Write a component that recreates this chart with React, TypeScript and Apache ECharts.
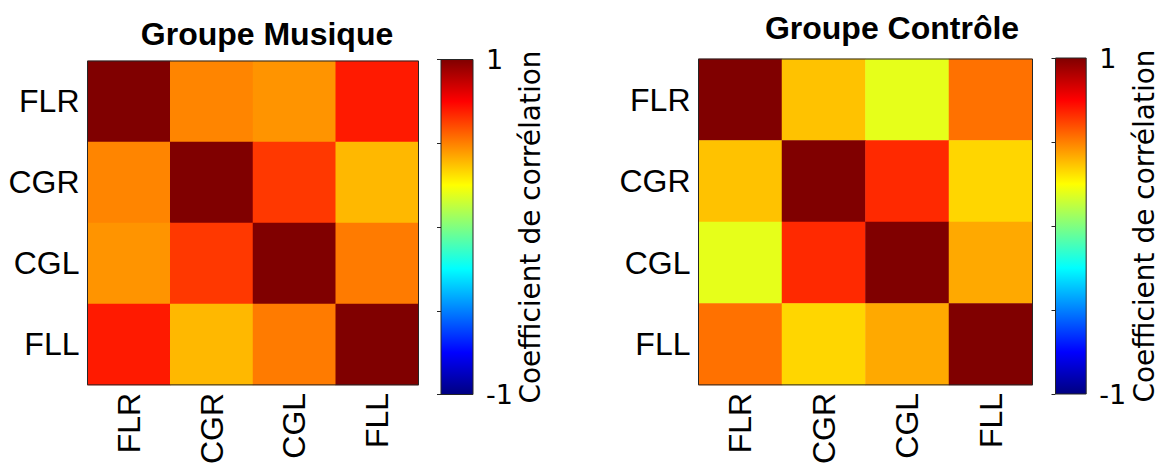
import React, { useEffect, useRef } from "react";
import * as echarts from "echarts";

const labels = ["FLR", "CGR", "CGL", "FLL"];
const titles = ["Groupe Musique", "Groupe Contrôle"];
const colorbarTitle = "Coefficient de corrélation";
const colorbarRange = [-1, 1];

// correlation matrices (rows top→bottom, columns left→right)
const musiqueFLR = [1, 0.49, 0.46, 0.7];
const musiqueCGR = [0.49, 1, 0.64, 0.39];
const musiqueCGL = [0.46, 0.64, 1, 0.51];
const musiqueFLL = [0.7, 0.39, 0.51, 1];

const controleFLR = [1, 0.37, 0.2, 0.53];
const controleCGR = [0.37, 1, 0.67, 0.33];
const controleCGL = [0.2, 0.67, 1, 0.42];
const controleFLL = [0.53, 0.33, 0.42, 1];

const jet = [
  "#000080",
  "#0000ff",
  "#0080ff",
  "#00ffff",
  "#80ff80",
  "#ffff00",
  "#ff8000",
  "#ff0000",
  "#800000",
];

function toCells(rows: number[][]) {
  const out: number[][] = [];
  rows.forEach((row, r) => row.forEach((v, c) => out.push([c, r, v])));
  return out;
}

const LABEL_FONT = "'Liberation Sans', Arial, sans-serif";
const CB_FONT = "'DejaVu Sans', 'Open Sans', sans-serif";

export default function App() {
  const ref = useRef<HTMLDivElement>(null);
  useEffect(() => {
    if (!ref.current) return;
    const chart = echarts.init(ref.current, undefined, { renderer: "svg" });
    const musique = toCells([musiqueFLR, musiqueCGR, musiqueCGL, musiqueFLL]);
    const controle = toCells([controleFLR, controleCGR, controleCGL, controleFLL]);

    const heatGrids = [
      { left: 87.5, top: 61, width: 331, height: 332 },
      { left: 698.5, top: 59, width: 334, height: 335 },
    ];
    const cbGrids = [
      { left: 441, top: 59.5, width: 32, height: 335 },
      { left: 1055.5, top: 58, width: 32.5, height: 336 },
    ];
    const cbNameGaps = [40, 36];
    const stops = jet
      .slice()
      .reverse()
      .map((c, i) => ({ offset: i / (jet.length - 1), color: c }));

    const grids: any[] = [];
    const xAxes: any[] = [];
    const yAxes: any[] = [];
    [...heatGrids, ...cbGrids].forEach((g) => {
      grids.push({ ...g, show: true, borderColor: "#262626", borderWidth: 1, backgroundColor: "transparent", z: 10 });
    });
    [0, 1].forEach((i) => {
      xAxes.push({
        type: "category",
        gridIndex: i,
        data: labels,
        axisLine: { show: false },
        axisTick: { show: false },
        splitLine: { show: false },
        axisLabel: {
          rotate: 90,
          margin: 8,
          fontSize: 32,
          fontFamily: LABEL_FONT,
          color: "#000",
        },
      });
      yAxes.push({
        type: "category",
        gridIndex: i,
        data: labels,
        inverse: true,
        axisLine: { show: false },
        axisTick: { show: false },
        splitLine: { show: false },
        axisLabel: {
          margin: 8,
          fontSize: 32,
          fontFamily: LABEL_FONT,
          color: "#000",
        },
      });
    });
    [2, 3].forEach((i, k) => {
      xAxes.push({ type: "value", gridIndex: i, min: 0, max: 1, show: false });
      yAxes.push({
        type: "value",
        gridIndex: i,
        position: "right",
        min: colorbarRange[0],
        max: colorbarRange[1],
        interval: 0.5,
        axisLine: { show: false },
        axisTick: { show: true, inside: true, length: 4, lineStyle: { color: "#262626" } },
        splitLine: { show: false },
        axisLabel: {
          margin: 13,
          fontSize: 27,
          fontFamily: CB_FONT,
          color: "#000",
          formatter: (v: number) => (v === 1 ? "1" : v === -1 ? "-1" : ""),
        },
        name: colorbarTitle,
        nameLocation: "middle",
        nameRotate: 90,
        nameGap: cbNameGaps[k],
        nameTextStyle: { fontSize: 28, fontFamily: CB_FONT, color: "#000" },
      });
    });

    const cbSeries = [2, 3].map((i) => ({
      type: "custom",
      xAxisIndex: i,
      yAxisIndex: i,
      silent: true,
      data: [[0, colorbarRange[0], colorbarRange[1]]],
      renderItem: (_p: any, api: any) => {
        const top = api.coord([0, api.value(2)]);
        const bot = api.coord([1, api.value(1)]);
        return {
          type: "rect",
          shape: { x: top[0], y: top[1], width: bot[0] - top[0], height: bot[1] - top[1] },
          style: { fill: new echarts.graphic.LinearGradient(0, 0, 0, 1, stops) },
        };
      },
    }));

    const titleStyle = { fontSize: 32, fontWeight: "bold", fontFamily: LABEL_FONT, color: "#000" };
    chart.setOption({
      animation: false,
      backgroundColor: "#ffffff",
      title: [
        { text: titles[0], left: 262, top: 13, textAlign: "center", textStyle: titleStyle },
        { text: titles[1], left: 887, top: 7, textAlign: "center", textStyle: titleStyle },
      ],
      grid: grids,
      xAxis: xAxes,
      yAxis: yAxes,
      visualMap: {
        type: "continuous",
        show: false,
        min: colorbarRange[0],
        max: colorbarRange[1],
        seriesIndex: [0, 1],
        inRange: { color: jet },
      },
      series: [
        { type: "heatmap", xAxisIndex: 0, yAxisIndex: 0, data: musique, emphasis: { disabled: true } },
        { type: "heatmap", xAxisIndex: 1, yAxisIndex: 1, data: controle, emphasis: { disabled: true } },
        ...cbSeries,
      ],
    });
    return () => chart.dispose();
  }, []);
  return (
    <div
      ref={ref}
      style={{ position: "fixed", left: 0, top: 0, width: 1159, height: 467, background: "#fff" }}
    />
  );
}
